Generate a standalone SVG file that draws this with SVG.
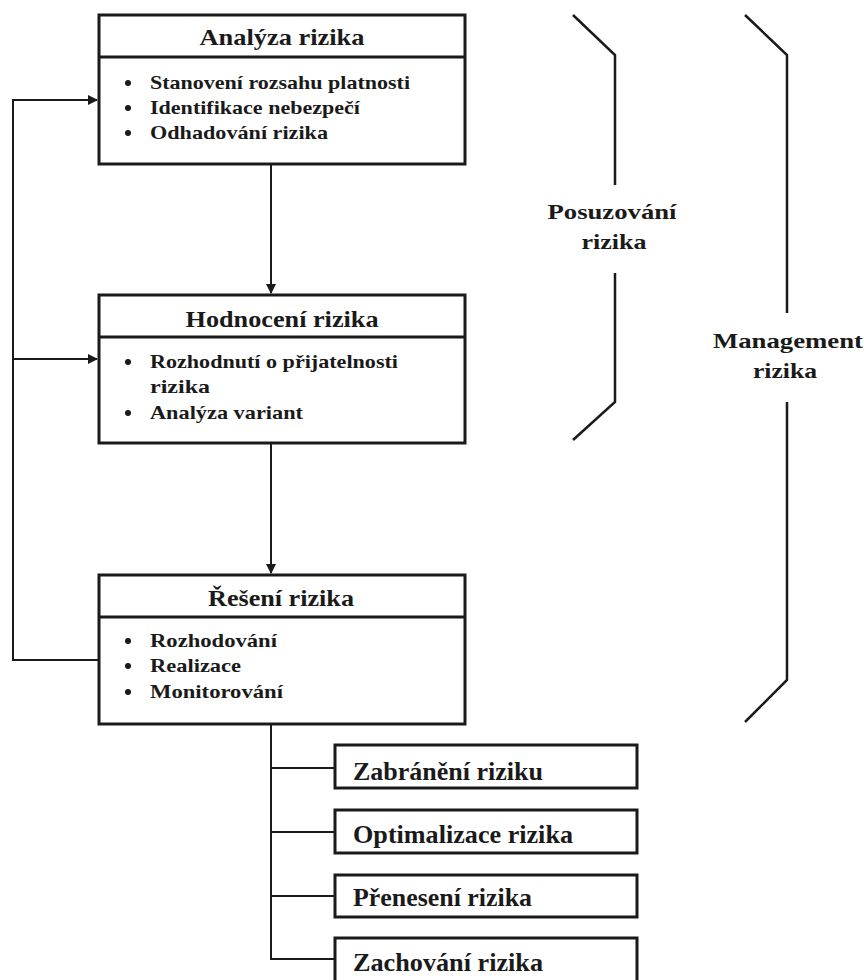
<svg xmlns="http://www.w3.org/2000/svg" width="864" height="980" viewBox="0 0 864 980">
<defs>
<style>
.box{fill:#fff;stroke:#1a1a1a;stroke-width:3}
.ln{fill:none;stroke:#1a1a1a;stroke-width:2}
.br{fill:none;stroke:#1a1a1a;stroke-width:2.5}
text{font-family:"Liberation Serif","Times New Roman",serif;font-weight:bold;fill:#1a1a1a}
.t{font-size:23px}
.b{font-size:19px}
.s{font-size:25px}
.l{font-size:22px}
</style>
<marker id="ah" markerWidth="10" markerHeight="10" refX="9" refY="5" orient="auto" markerUnits="userSpaceOnUse">
<path d="M0,0 L10,5 L0,10 Z" fill="#1a1a1a"/>
</marker>
</defs>
<rect width="864" height="980" fill="#fff"/>

<g id="connectors">
<line class="ln" x1="271" y1="164" x2="271" y2="293" marker-end="url(#ah)"/>
<line class="ln" x1="271" y1="443" x2="271" y2="573" marker-end="url(#ah)"/>
<polyline class="ln" points="99,660 13,660 13,100 97,100" marker-end="url(#ah)"/>
<line class="ln" x1="13" y1="359" x2="97" y2="359" marker-end="url(#ah)"/>
<polyline class="ln" points="271,724 271,959 335,959"/>
<line class="ln" x1="271" y1="768" x2="335" y2="768"/>
<line class="ln" x1="271" y1="832" x2="335" y2="832"/>
<line class="ln" x1="271" y1="896" x2="335" y2="896"/>
</g>

<g id="analyza">
<rect class="box" x="99" y="15" width="366" height="149"/>
<line class="box" x1="99" y1="57" x2="465" y2="57"/>
<text class="t" x="282" y="45" text-anchor="middle" textLength="165" lengthAdjust="spacingAndGlyphs">Analýza rizika</text>
<circle cx="128" cy="83" r="3" fill="#1a1a1a"/>
<circle cx="128" cy="108" r="3" fill="#1a1a1a"/>
<circle cx="128" cy="133" r="3" fill="#1a1a1a"/>
<text class="b" x="150" y="89" textLength="260" lengthAdjust="spacingAndGlyphs">Stanovení rozsahu platnosti</text>
<text class="b" x="150" y="114" textLength="210" lengthAdjust="spacingAndGlyphs">Identifikace nebezpečí</text>
<text class="b" x="150" y="139" textLength="178" lengthAdjust="spacingAndGlyphs">Odhadování rizika</text>
</g>

<g id="hodnoceni">
<rect class="box" x="99" y="295" width="366" height="148"/>
<line class="box" x1="99" y1="337" x2="465" y2="337"/>
<text class="t" x="282" y="327" text-anchor="middle" textLength="193" lengthAdjust="spacingAndGlyphs">Hodnocení rizika</text>
<circle cx="128" cy="362" r="3" fill="#1a1a1a"/>
<circle cx="128" cy="413" r="3" fill="#1a1a1a"/>
<text class="b" x="150" y="368" textLength="248" lengthAdjust="spacingAndGlyphs">Rozhodnutí o přijatelnosti</text>
<text class="b" x="150" y="393" textLength="60" lengthAdjust="spacingAndGlyphs">rizika</text>
<text class="b" x="150" y="419" textLength="153" lengthAdjust="spacingAndGlyphs">Analýza variant</text>
</g>

<g id="reseni">
<rect class="box" x="99" y="575" width="366" height="149"/>
<line class="box" x1="99" y1="617" x2="465" y2="617"/>
<text class="t" x="281" y="606" text-anchor="middle" textLength="146" lengthAdjust="spacingAndGlyphs">Řešení rizika</text>
<circle cx="128" cy="641" r="3" fill="#1a1a1a"/>
<circle cx="128" cy="666" r="3" fill="#1a1a1a"/>
<circle cx="128" cy="692" r="3" fill="#1a1a1a"/>
<text class="b" x="150" y="647" textLength="127" lengthAdjust="spacingAndGlyphs">Rozhodování</text>
<text class="b" x="150" y="672" textLength="91" lengthAdjust="spacingAndGlyphs">Realizace</text>
<text class="b" x="150" y="698" textLength="133" lengthAdjust="spacingAndGlyphs">Monitorování</text>
</g>

<g id="zabraneni">
<rect class="box" x="335" y="745" width="302" height="43"/>
<text class="s" x="353" y="780" textLength="190" lengthAdjust="spacingAndGlyphs">Zabránění riziku</text>
</g>
<g id="optimalizace">
<rect class="box" x="335" y="810" width="302" height="43"/>
<text class="s" x="353" y="843" textLength="220" lengthAdjust="spacingAndGlyphs">Optimalizace rizika</text>
</g>
<g id="preneseni">
<rect class="box" x="335" y="875" width="302" height="42"/>
<text class="s" x="353" y="906" textLength="179" lengthAdjust="spacingAndGlyphs">Přenesení rizika</text>
</g>
<g id="zachovani">
<rect class="box" x="335" y="938" width="302" height="46"/>
<text class="s" x="353" y="971" textLength="190" lengthAdjust="spacingAndGlyphs">Zachování rizika</text>
</g>

<g id="posuzovani">
<polyline class="br" points="573,15 615,55 615,185"/>
<polyline class="br" points="615,273 615,402 573,440"/>
<text class="l" x="612" y="219" text-anchor="middle" textLength="129" lengthAdjust="spacingAndGlyphs">Posuzování</text>
<text class="l" x="614" y="249" text-anchor="middle" textLength="65" lengthAdjust="spacingAndGlyphs">rizika</text>
</g>

<g id="management">
<polyline class="br" points="745,15 787,55 787,313"/>
<polyline class="br" points="787,402 787,680 745,722"/>
<text class="l" x="788" y="348" text-anchor="middle" textLength="150" lengthAdjust="spacingAndGlyphs">Management</text>
<text class="l" x="785" y="378" text-anchor="middle" textLength="64" lengthAdjust="spacingAndGlyphs">rizika</text>
</g>
</svg>
